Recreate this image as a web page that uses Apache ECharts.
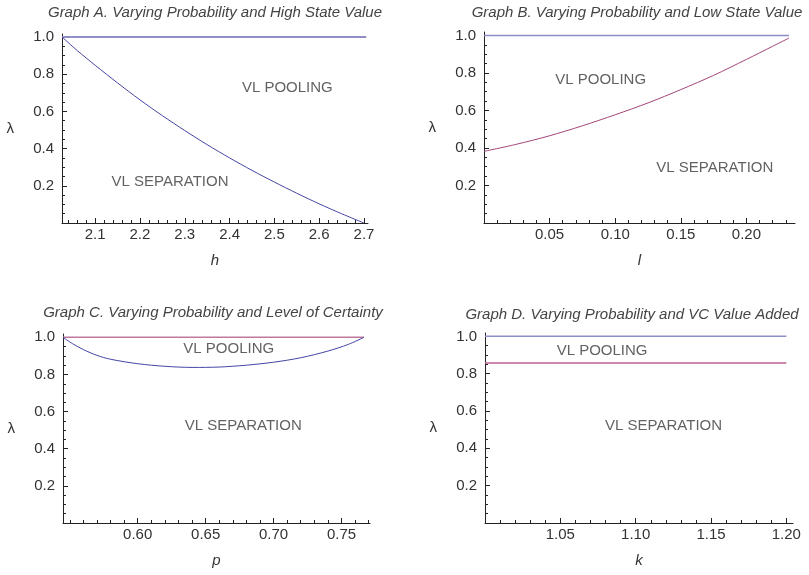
<!DOCTYPE html>
<html>
<head>
<meta charset="utf-8">
<script src="https://cdn.jsdelivr.net/npm/echarts@6/dist/echarts.min.js"></script>
<style>html,body{margin:0;padding:0;background:#fff}#chart{width:809px;height:575px}</style>
</head>
<body>
<div id="chart"></div>
<script>
// ===== data =====
// Graph A: varying h
const hValues = [2.026, 2.06, 2.1, 2.15, 2.2, 2.25, 2.3, 2.35, 2.4, 2.45, 2.5, 2.55, 2.6, 2.65, 2.7];
const lambdaA = [1.0, 0.927, 0.848, 0.753, 0.662, 0.577, 0.497, 0.421, 0.350, 0.283, 0.220, 0.160, 0.103, 0.05, 0.0];
const topAx = [2.026, 2.705];
const ticksA = [2.1, 2.2, 2.3, 2.4, 2.5, 2.6, 2.7];

// Graph B: varying l
const lValues = [0, 0.025, 0.05, 0.075, 0.10, 0.125, 0.15, 0.175, 0.20, 0.22, 0.2325];
const lambdaB = [0.382, 0.42, 0.465, 0.518, 0.577, 0.64, 0.711, 0.787, 0.872, 0.942, 0.986];
const topBx = [0, 0.2325];
const ticksB = [0.05, 0.10, 0.15, 0.20];

// Graph C: varying p
const pValues = [0.545, 0.552, 0.56, 0.57, 0.58, 0.60, 0.62, 0.64, 0.66, 0.68, 0.70, 0.72, 0.74, 0.755, 0.7666];
const lambdaC = [1.0, 0.966, 0.934, 0.903, 0.882, 0.858, 0.844, 0.838, 0.84, 0.85, 0.866, 0.89, 0.926, 0.962, 1.0];
const topCx = [0.545, 0.7666];
const ticksC = [0.60, 0.65, 0.70, 0.75];

// Graph D: varying k
const kValues = [1.0, 1.2];
const lambdaD = [0.857, 0.857];
const ticksD = [1.05, 1.10, 1.15, 1.20];

const yTicks = [0.2, 0.4, 0.6, 0.8, 1.0];

const titles = [
  'Graph A. Varying Probability and High State Value',
  'Graph B. Varying Probability and Low State Value',
  'Graph C. Varying Probability and Level of Certainty',
  'Graph D. Varying Probability and VC Value Added'
];
const xNames = ['h', 'l', 'p', 'k'];
// region labels [x, y] in data units
const poolingAt = [[2.529, 0.726], [0.0889, 0.764], [0.667, 0.939], [1.0777, 0.92]];
const separationAt = [[2.267, 0.22], [0.1759, 0.296], [0.6777, 0.524], [1.1185, 0.523]];

// ===== layout =====
const FONT = '"Liberation Sans", Arial, Helvetica, sans-serif';
const BLUE = '#4545a3';
const RED = '#a3457a';
const AXIS = '#222';
const grids = [
  { left: 62, top: 34, width: 306, height: 189 },
  { left: 484, top: 32, width: 311, height: 191 },
  { left: 63, top: 334, width: 307, height: 189 },
  { left: 485, top: 333, width: 308, height: 190 }
];
const xRanges = [[2.026, 2.709], [0, 0.237], [0.545, 0.771], [1.0, 1.2044]];
const yMax = [1.016, 1.018, 1.018, 1.018];
const xMajor = [ticksA, ticksB, ticksC, ticksD];
const xMinorStep = [0.02, 0.01, 0.01, 0.01];
const xDigits = [1, 2, 2, 2];

// minor tick positions between min and max, skipping majors
function minorTicks(min, max, step, majors) {
  const out = [];
  const start = Math.ceil(min / step - 1e-9);
  for (let i = start; i * step <= max + 1e-9; i++) {
    const v = +(i * step).toFixed(4);
    if (v <= min || v > max) continue;
    if (majors.some(m => Math.abs(m - v) < 1e-6)) continue;
    out.push(v);
  }
  return out;
}

const zip = (xs, ys) => xs.map((x, i) => [x, ys[i]]);

const xAxis = [], yAxis = [];
grids.forEach((g, i) => {
  const [mn, mx] = xRanges[i];
  xAxis.push({
    gridIndex: i, type: 'value', position: 'bottom', min: mn, max: mx,
    name: xNames[i], nameLocation: 'middle', nameGap: 30,
    nameTextStyle: { fontStyle: 'italic', fontSize: 15, color: '#333', fontFamily: FONT },
    axisLine: { show: true, onZero: false, lineStyle: { color: AXIS, width: 1 } },
    axisTick: { show: true, inside: true, length: 5, customValues: xMajor[i], lineStyle: { color: AXIS, width: 1 } },
    axisLabel: { customValues: xMajor[i], margin: 4, color: '#333', fontSize: 15, fontFamily: FONT,
      formatter: v => v.toFixed(xDigits[i]) },
    splitLine: { show: false }
  });
  xAxis.push({
    gridIndex: i, type: 'value', position: 'bottom', min: mn, max: mx,
    axisLine: { show: false, onZero: false },
    axisTick: { show: true, inside: true, length: 3, customValues: minorTicks(mn, mx, xMinorStep[i], xMajor[i]), lineStyle: { color: AXIS, width: 1 } },
    axisLabel: { show: false },
    splitLine: { show: false }
  });
  yAxis.push({
    gridIndex: i, type: 'value', position: 'left', min: 0, max: yMax[i],
    name: 'λ', nameLocation: 'middle', nameGap: 48, nameRotate: 0,
    nameTextStyle: { fontSize: 15, color: '#333', fontFamily: FONT },
    axisLine: { show: true, onZero: false, lineStyle: { color: AXIS, width: 1 } },
    axisTick: { show: true, inside: true, length: 5, customValues: yTicks, lineStyle: { color: AXIS, width: 1 } },
    axisLabel: { customValues: yTicks, margin: 8, color: '#333', fontSize: 15, fontFamily: FONT,
      formatter: v => v.toFixed(1) },
    splitLine: { show: false }
  });
  yAxis.push({
    gridIndex: i, type: 'value', position: 'left', min: 0, max: yMax[i],
    axisLine: { show: false, onZero: false },
    axisTick: { show: true, inside: true, length: 3, customValues: minorTicks(0, yMax[i], 0.05, [0, ...yTicks]), lineStyle: { color: AXIS, width: 1 } },
    axisLabel: { show: false },
    splitLine: { show: false }
  });
});

function line(i, data, color, width) {
  return {
    type: 'line', xAxisIndex: 2 * i, yAxisIndex: 2 * i, data,
    showSymbol: false, smooth: 0.3, silent: true,
    lineStyle: { color, width }
  };
}

const series = [
  line(0, zip(topAx, [1, 1]), '#8f8fc6', 2),
  line(0, zip(hValues, lambdaA), BLUE, 1),
  line(1, zip(topBx, [1, 1]), '#8c8cc8', 1.5),
  line(1, zip(lValues, lambdaB), RED, 1),
  line(2, zip(topCx, [1, 1]), '#c0789e', 1.5),
  line(2, zip(pValues, lambdaC), BLUE, 1),
  line(3, zip(kValues, [1, 1]), '#8e8ec8', 1.5),
  line(3, zip(kValues, lambdaD), '#b8608e', 1.5)
];

// region labels
grids.forEach((g, i) => {
  series.push({
    type: 'scatter', xAxisIndex: 2 * i, yAxisIndex: 2 * i, symbolSize: 1, silent: true,
    itemStyle: { color: 'rgba(0,0,0,0)' },
    label: { show: true, position: 'inside', formatter: p => p.name, color: '#3a3a3a', fontSize: 15, fontFamily: FONT },
    data: [
      { name: 'VL POOLING', value: poolingAt[i] },
      { name: 'VL SEPARATION', value: separationAt[i] }
    ]
  });
});

const titleCenters = [[215, 13], [637, 13], [213, 313], [632, 315]];
const graphic = titles.map((t, i) => ({
  type: 'text', x: titleCenters[i][0], y: titleCenters[i][1], silent: true,
  style: { text: t, fontSize: 15, fontStyle: 'italic', fontFamily: FONT, fill: '#444', align: 'center', verticalAlign: 'middle' }
}));

const chart = echarts.init(document.getElementById('chart'));
chart.setOption({
  animation: false,
  backgroundColor: '#fff',
  grid: grids,
  xAxis, yAxis, series, graphic
});
</script>
</body>
</html>
